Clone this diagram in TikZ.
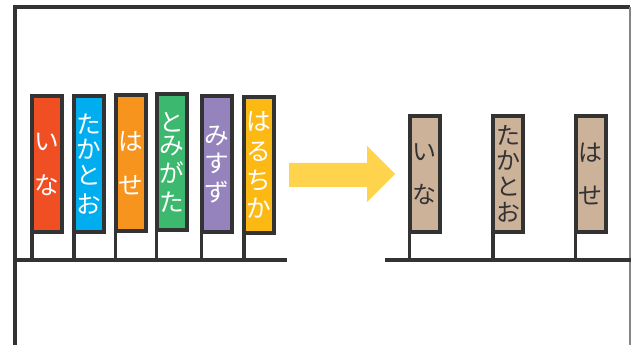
\documentclass[tikz,border=0pt]{standalone}
\usepackage{fontspec}
\newfontfamily\jp{Noto Sans CJK JP}
\definecolor{ink}{HTML}{333333}
\definecolor{cred}{HTML}{F04E23}
\definecolor{cblue}{HTML}{00AEEF}
\definecolor{corange}{HTML}{F7941D}
\definecolor{cgreen}{HTML}{3CB96E}
\definecolor{cpurple}{HTML}{9483BC}
\definecolor{cyellow}{HTML}{FDB913}
\definecolor{ctan}{HTML}{CDB29A}
\definecolor{carrow}{HTML}{FFD44C}
\tikzset{
  frameline/.style={draw=ink, line width=2.4pt},
  pole/.style={draw=ink, line width=2.4pt},
  flagbox/.style={draw=ink, line width=3pt, outer sep=0pt, inner sep=0pt,
    minimum width=22.5pt, minimum height=102pt, align=center,
    font=\jp\fontsize{18.5}{20}\selectfont, text=white},
  tanbox/.style={flagbox, fill=ctan, minimum height=87pt, text=ink,
    font=\jp\fontsize{18}{20}\selectfont},
}
\begin{document}
\begin{tikzpicture}[x=0.75pt, y=-0.75pt]
\useasboundingbox (0,0) rectangle (631,345);
% frame
\coordinate (tl) at (15,7);
\coordinate (tr) at (630,7);
\coordinate (bl) at (15,345);
\coordinate (br) at (630,345);
\draw[frameline] (bl) -- (tl) -- (tr);
\draw[draw=ink!60, line width=1pt] (tr) -- (br);
% ground lines
\coordinate (g1a) at (15,260);
\coordinate (g1b) at (287,260);
\coordinate (g2a) at (385,260);
\coordinate (g2b) at (631,260);
\draw[frameline] (g1a) -- (g1b);
\draw[frameline] (g2a) -- (g2b);
% left flags
\node[flagbox, fill=cred] (f1) at (47,164) {い\\[13pt]な};
\node[flagbox, fill=cblue] (f2) at (89,164) {た\\[-1pt]か\\[-1pt]と\\[2pt]お};
\node[flagbox, fill=corange] (f3) at (130.5,163) {は\\[13pt]せ};
\node[flagbox, fill=cgreen] (f4) at (171.5,162.5) {と\\[-3pt]み\\[1pt]が\\[2pt]た};
\node[flagbox, fill=cpurple] (f5) at (216.5,164.5) {み\\[1pt]す\\[2pt]ず};
\node[flagbox, fill=cyellow] (f6) at (259,165) {は\\[2pt]る\\[2pt]ち\\[1pt]か};
\foreach \f in {f1,f2,f3,f4,f5,f6}{
  \draw[pole] (\f.south west) -- (\f.south west |- g1a);
}
% arrow
\coordinate (a1) at (289,163);
\coordinate (a2) at (367,163);
\coordinate (a3) at (367,146);
\coordinate (a4) at (395,174);
\coordinate (a5) at (367,202);
\coordinate (a6) at (367,187);
\coordinate (a7) at (289,187);
\fill[carrow] (a1) -- (a2) -- (a3) -- (a4) -- (a5) -- (a6) -- (a7) -- cycle;
% right flags
\node[tanbox] (r1) at (424.5,174) {い\\[12pt]な};
\node[tanbox] (r2) at (508,174) {た\\[-1pt]か\\[-1pt]と\\[0pt]お};
\node[tanbox] (r3) at (590.5,174) {は\\[12pt]せ};
\foreach \f in {r1,r2,r3}{
  \draw[pole] (\f.south west) -- (\f.south west |- g2a);
}
\end{tikzpicture}
\end{document}
